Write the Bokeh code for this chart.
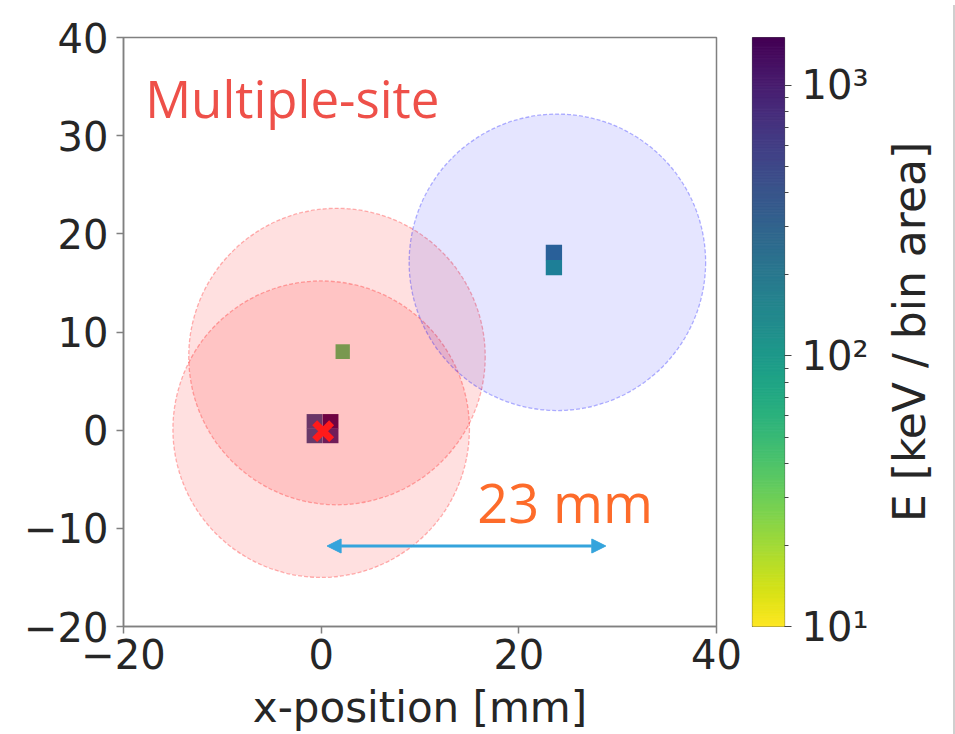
import numpy as np
from bokeh.plotting import figure
from bokeh.models import (Range1d, LogColorMapper, Label, Arrow, NormalHead,
                          FixedTicker, Div, ColumnDataSource)
from bokeh.layouts import row
from bokeh.palettes import Viridis256
from bokeh.embed import file_html
from bokeh.resources import INLINE

# ---------------- data ----------------
x_ticks = [-20, 0, 20, 40]
y_ticks = [-20, -10, 0, 10, 20, 30, 40]

# 2D histogram bins (centre x, centre y, energy per bin area)
bin_x = [-0.67, -0.67, 0.95, 0.95, 2.18, 23.55, 23.55]
bin_y = [0.89, -0.58, 0.89, -0.58, 8.0, 18.1, 16.55]
bin_w = [1.6, 1.6, 1.6, 1.6, 1.45, 1.65, 1.65]
bin_h = [1.5, 1.5, 1.5, 1.5, 1.5, 1.6, 1.55]
bin_e = [520, 480, 1400, 900, 38, 260, 125]

# cluster circles
circle_x = [0.0, 1.6, 23.9]
circle_y = [0.1, 7.5, 17.1]
circle_r = [15.0, 15.0, 15.0]
circle_color = ["#ff0000", "#ff0000", "#0000ff"]
circle_alpha = [0.12, 0.12, 0.10]

# marker
mk_x = [0.2]
mk_y = [-0.1]

# distance arrow
arrow_x = [0.6, 28.8]
arrow_y = -11.8

cbar_low, cbar_high = 10, 1500
cbar_major = [10, 100, 1000]
cbar_minor = [20, 30, 40, 50, 60, 70, 80, 90, 200, 300, 400, 500, 600, 700, 800, 900]
cbar_title = "E [keV / bin area]"

# ---------------- figure ----------------
mapper = LogColorMapper(palette=Viridis256[::-1], low=cbar_low, high=cbar_high)

p = figure(width=745, height=734, x_range=Range1d(-20, 40), y_range=Range1d(-20, 40),
           output_backend="svg", toolbar_location=None,
           min_border_left=123, min_border_right=29, min_border_top=37, min_border_bottom=104)
p.grid.visible = False
p.outline_line_color = "#808080"
p.outline_line_width = 1.5

bins = ColumnDataSource(dict(x=bin_x, y=bin_y, w=bin_w, h=bin_h, e=bin_e))
p.rect(x="x", y="y", width="w", height="h", source=bins,
       fill_color={"field": "e", "transform": mapper}, line_color=None)

circ = ColumnDataSource(dict(x=circle_x, y=circle_y, r=circle_r, c=circle_color, a=circle_alpha))
p.circle(x="x", y="y", radius="r", source=circ, fill_color="c", fill_alpha="a",
         line_color="c", line_alpha=0.3, line_width=1.3, line_dash="4 2")

p.scatter(mk_x, mk_y, marker="x", size=24, line_width=7, line_color="#ff1a1a")

ac = "#35a4dc"
p.add_layout(Arrow(start=NormalHead(size=14, fill_color=ac, line_color=ac),
                   end=NormalHead(size=14, fill_color=ac, line_color=ac),
                   x_start=arrow_x[0], y_start=arrow_y, x_end=arrow_x[1], y_end=arrow_y,
                   line_color=ac, line_width=3))

p.add_layout(Label(x=-17.8, y=33.8, text="Multiple-site", text_font="Open Sans",
                   text_font_size="51px", text_color="#ee5049", text_baseline="alphabetic"))
p.add_layout(Label(x=15.8, y=-7.35, text="23 mm", text_font="Open Sans",
                   text_font_size="54px", text_color="#fd6b2a", text_baseline="alphabetic"))

for ax in (p.xaxis[0], p.yaxis[0]):
    ax.major_label_text_font = "DejaVu Sans"
    ax.major_label_text_font_size = "40px"
    ax.major_label_text_color = "#262626"
    ax.axis_line_color = "#808080"
    ax.axis_line_width = 1.5
    ax.major_tick_line_color = "#808080"
    ax.major_tick_line_width = 1.5
    ax.major_tick_in = 0
    ax.major_tick_out = 7
    ax.minor_tick_line_color = None
    ax.major_label_overrides = {-20: "\u221220", -10: "\u221210"}

p.xaxis.ticker = FixedTicker(ticks=x_ticks)
p.yaxis.ticker = FixedTicker(ticks=y_ticks)
p.xaxis.major_label_standoff = 5
p.yaxis.major_label_standoff = 8
p.xaxis.axis_label = "x-position [mm]"
p.xaxis.axis_label_text_font = "DejaVu Sans"
p.xaxis.axis_label_text_font_size = "42px"
p.xaxis.axis_label_text_font_style = "normal"
p.xaxis.axis_label_text_color = "#262626"
p.xaxis.axis_label_standoff = 11

# ---------------- colour bar ----------------
cb = figure(width=135, height=734, x_range=Range1d(0, 1),
            y_range=Range1d(cbar_low, cbar_high), y_axis_type="log",
            y_axis_location="right", x_axis_location=None,
            output_backend="svg", toolbar_location=None,
            min_border_left=7, min_border_right=96, min_border_top=37, min_border_bottom=104)
cb.grid.visible = False
cb.outline_line_color = "#555555"
cb.outline_line_width = 1.2

edges = np.logspace(np.log10(cbar_low), np.log10(cbar_high), 400)
grad = ColumnDataSource(dict(b=edges[:-1], t=edges[1:], m=np.sqrt(edges[:-1] * edges[1:])))
cb.quad(left=0, right=1, bottom="b", top="t", source=grad,
        fill_color={"field": "m", "transform": mapper},
        line_color={"field": "m", "transform": mapper}, line_width=1)

ya = cb.yaxis[0]
ya.ticker = FixedTicker(ticks=cbar_major, minor_ticks=cbar_minor)
ya.major_label_overrides = {10: "10\u00b9", 100: "10\u00b2", 1000: "10\u00b3"}
ya.major_label_text_font = "DejaVu Sans"
ya.major_label_text_font_size = "40px"
ya.major_label_text_color = "#262626"
ya.axis_line_color = None
ya.major_tick_in = 0
ya.major_tick_out = 7
ya.minor_tick_in = 0
ya.minor_tick_out = 4
ya.major_tick_line_color = "#444444"
ya.minor_tick_line_color = "#444444"
ya.major_label_standoff = 10

# ---------------- colour bar title (left axis label of a slim companion figure) ----
lab = figure(width=68, height=734, x_range=Range1d(0, 1), y_range=Range1d(0, 1),
             x_axis_location=None, y_axis_location="left",
             output_backend="svg", toolbar_location=None,
             min_border_left=60, min_border_right=0, min_border_top=37, min_border_bottom=104)
lab.grid.visible = False
lab.outline_line_color = None
la = lab.yaxis[0]
la.ticker = FixedTicker(ticks=[])
la.major_tick_in = 0
la.major_tick_out = 0
la.minor_tick_in = 0
la.minor_tick_out = 0
la.axis_line_color = None
la.major_label_standoff = 0
la.axis_label = cbar_title
la.axis_label_text_font = "DejaVu Sans"
la.axis_label_text_font_size = "44px"
la.axis_label_text_font_style = "normal"
la.axis_label_text_color = "#262626"
la.axis_label_standoff = 14

border = Div(width=2, height=734, styles={"background-color": "#cfcfcf"})

layout = row(p, cb, lab, border)
open("out.html", "w").write(file_html(layout, INLINE))
